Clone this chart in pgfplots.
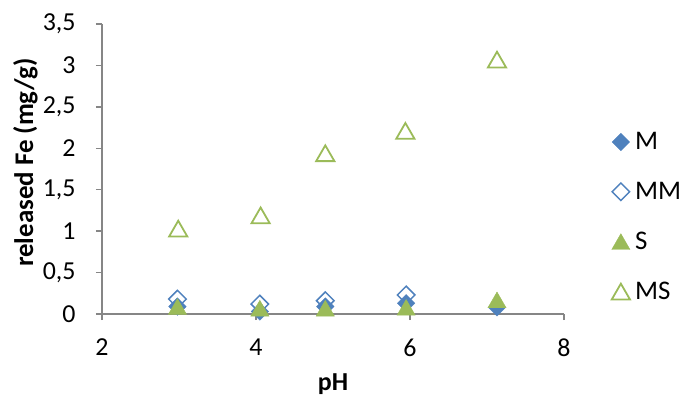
\documentclass[border=0pt]{standalone}
\usepackage{pgfplots}
\pgfplotsset{compat=1.18}
\usepackage{fontspec}
\setmainfont{Carlito}
\definecolor{mblue}{HTML}{4F81BD}
\definecolor{sgreen}{HTML}{9BBB59}
\definecolor{axgray}{HTML}{868686}
\begin{document}
\begin{tikzpicture}
\path[use as bounding box] (-102bp,-87bp) rectangle (578bp,314bp);
\begin{axis}[
  scale only axis, width=462bp, height=290bp,
  xmin=2, xmax=8, ymin=0, ymax=3.5,
  xtick={2,4,6,8}, ytick={0,0.5,...,3.5},
  axis x line*=bottom, axis y line*=left,
  axis line style={axgray, line width=1.5bp, -},
  tick style={axgray, line width=1.5bp},
  tick align=outside, major tick length=6bp,
  /pgf/number format/assume math mode=true,
  /pgf/number format/use comma,
  yticklabel style={font=\fontsize{26}{30}\selectfont, xshift=-17bp},
  xticklabel style={font=\fontsize{26}{30}\selectfont, yshift=-15bp},
  xlabel={\textbf{pH}}, ylabel={\textbf{released Fe (mg/g)}},
  xlabel style={font=\fontsize{26}{30}\selectfont, at={(axis description cs:0.5,-0.265)}, anchor=base},
  ylabel style={font=\fontsize{27}{30}\selectfont, at={(axis description cs:-0.166,0.522)}, anchor=center},
  clip=false,
  legend image code/.code={\draw[mark repeat=2,mark phase=2,#1] plot coordinates {(0bp,0bp) (10bp,0bp) (20bp,0bp)}; \path (23bp,0bp);},
  legend style={draw=none, fill=none, at={(1.103,0.335)}, anchor=west, inner sep=0pt,
    font=\fontsize{27}{30}\selectfont, row sep=29bp,
    nodes={inner sep=1bp}},
  legend cell align=left,
]
\addplot[only marks, mark=square*, mark size=6.2bp, mark options={rotate=45, fill=mblue, draw=mblue}]
  coordinates {(2.98,0.09) (4.05,0.03) (4.90,0.09) (5.95,0.13) (7.13,0.08)};
\addlegendentry{M}
\addplot[only marks, mark=square, mark size=6.2bp, mark options={rotate=45, draw=mblue, line width=1.5bp}]
  coordinates {(2.98,0.18) (4.05,0.12) (4.90,0.16) (5.95,0.23)};
\addlegendentry{MM}
\addplot[only marks, mark=triangle*, mark size=10.5bp, mark options={yshift=-2.6bp, fill=sgreen, draw=sgreen}]
  coordinates {(2.98,0.09) (4.05,0.07) (4.90,0.07) (5.95,0.08) (7.13,0.17)};
\addlegendentry{S}
\addplot[only marks, mark=triangle, mark size=10.5bp, mark options={yshift=-2.6bp, draw=sgreen, line width=1.8bp}]
  coordinates {(2.99,1.03) (4.06,1.19) (4.90,1.94) (5.94,2.21) (7.13,3.07)};
\addlegendentry{MS}
\end{axis}
\end{tikzpicture}
\end{document}
